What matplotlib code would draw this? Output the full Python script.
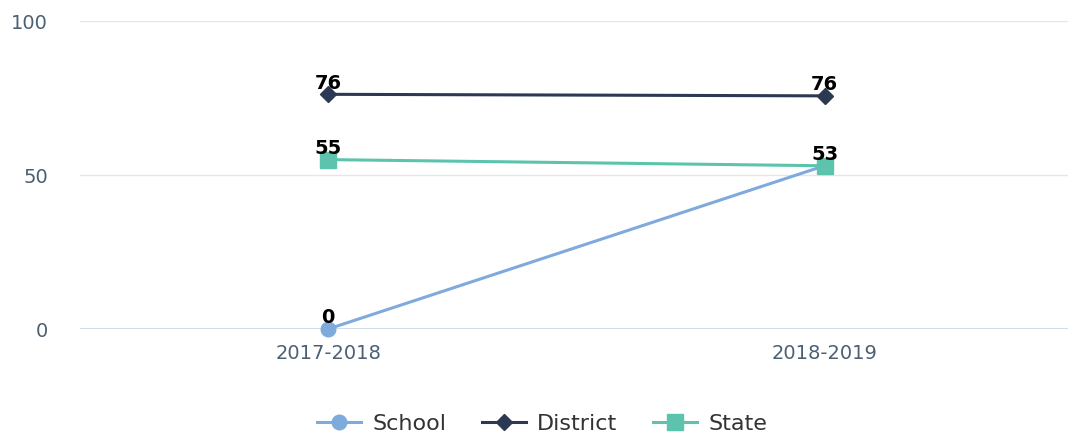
import matplotlib
matplotlib.use("Agg")
import matplotlib.pyplot as plt

years = ["2017-2018", "2018-2019"]
school = [0, 53]
district = [76.2, 75.7]
state = [55.0, 53.0]

plt.rcParams['font.family'] = ['DejaVu Sans']

fig = plt.figure(figsize=(10.69, 4.46), dpi=100)
ax = fig.add_axes([0.0748, 0.2623, 0.924, 0.6906])

x = list(range(len(years)))
ax.plot(x, school, color="#7eaadc", lw=2.2, marker="o", ms=10.5, label="School", zorder=3, clip_on=False)
ax.plot(x, district, color="#2b3a52", lw=2.2, marker="D", ms=8.5, label="District", zorder=3, clip_on=False)
ax.plot(x, state, color="#5cc4ad", lw=2.2, marker="s", ms=11.5, label="State", zorder=3, clip_on=False)

# data labels, skip a repeat at the same spot
shown = set()
for vals in (school, district, state):
    for xi, v in zip(x, vals):
        key = (xi, round(v))
        if key in shown:
            continue
        shown.add(key)
        ax.annotate(f"{v:.0f}", (xi, v), xytext=(0, 4), textcoords="offset points",
                    ha="center", va="baseline", fontsize=14, fontweight="bold", color="black", zorder=4)

ax.set_xlim(-0.5, 1.49)
ax.set_ylim(0, 100)
ax.set_yticks([0, 50, 100])
ax.set_xticks(x)
ax.set_xticklabels(years)
ax.tick_params(axis="both", length=0, labelsize=14, labelcolor="#4b6072")
ax.tick_params(axis="x", pad=11)
ax.tick_params(axis="y", pad=23)

ax.grid(axis="y", color="#e6e6e6", lw=1)
ax.axhline(0, color="#ccd6eb", lw=1.2, zorder=1)
for s in ax.spines.values():
    s.set_visible(False)
ax.set_axisbelow(True)

leg = fig.legend(loc="center", bbox_to_anchor=(0.507, 0.049), ncol=3, frameon=False,
                 fontsize=16, handlelength=2.0, columnspacing=1.6, handletextpad=0.5)
for t in leg.get_texts():
    t.set_color("#333333")

fig.savefig("out.png", dpi=100)
